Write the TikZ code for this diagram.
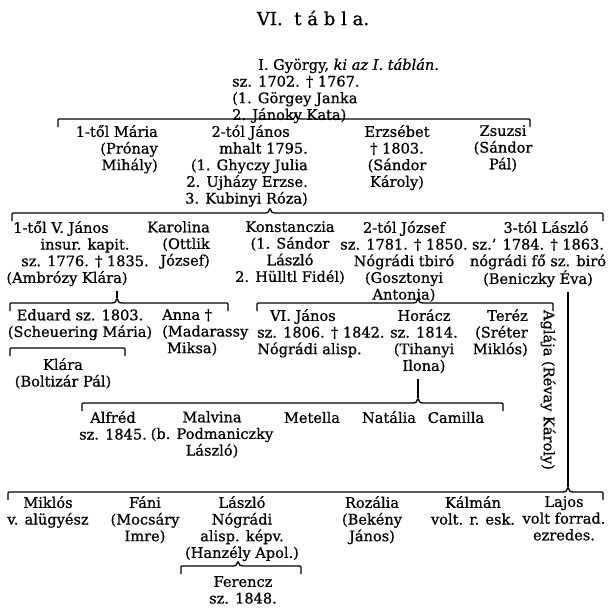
\documentclass[tikz,border=0pt]{standalone}
\usepackage{fontspec}
\setmainfont[FakeBold=0.8]{DejaVu Serif}
\usetikzlibrary{calc}

% bracket: left end, tip, right end (hooks turn down)
\newcommand{\kinbracket}[3]{%
  \draw[kin] ($(#1)+(0,8)$) -- (#1) -- ($(#2)+(-6,0)$)
    .. controls ($(#2)+(-2,0)$) .. ($(#2)+(0,-5)$)
    .. controls ($(#2)+(2,0)$) .. ($(#2)+(6,0)$) -- (#3) -- ($(#3)+(0,8)$);}
% bracket with no tip
\newcommand{\kinbar}[2]{%
  \draw[kin] ($(#1)+(0,8)$) -- (#1) -- (#2) -- ($(#2)+(0,8)$);}

\begin{document}
\begin{tikzpicture}[x=0.35mm, y=-0.35mm,
  font=\fontsize{14.5}{16.6}\selectfont,
  person/.style={inner sep=0pt, anchor=north, align=center, execute at begin node=\strut},
  kin/.style={line width=1.3pt, rounded corners=1pt}]
  \useasboundingbox (0,0) rectangle (613,609);

  % Title
  \node (title) at (313,18) [font=\fontsize{18}{20}\selectfont] {VI.\ \ t á b l a.};

  % I. generation
  \node[person, anchor=north west, align=left] (gyorgy) at (232,58)
    {\hspace*{9.1mm}I. György, \textit{ki az I. táblán.}\\sz. 1702. † 1767.\\(1. Görgey Janka\\2. Jánoky Kata)};

  % Children of György
  \node[person, anchor=north east, align=right] (maria) at (158,125) {1-től Mária\\(Prónay\\Mihály)};
  \node[person, anchor=north east, align=right] (janos2) at (308,125)
    {2-tól János\hspace*{6.3mm}\\mhalt 1795.\\(1. Ghyczy Julia\\2. Ujházy Erzse.\\3. Kubinyi Róza)};
  \node[person] (erzsebet) at (397,125) {Erzsébet\\† 1803.\\(Sándor\\Károly)};
  \node[person] (zsuzsi) at (503,125) {Zsuzsi\\(Sándor\\Pál)};

  % Children of János
  \node[person] (janos5) at (85,221)
    {1-től V. János\hspace*{16.8mm}\\insur. kapit.\\sz. 1776. † 1835.\\(Ambrózy Klára)\hspace*{12.6mm}};
  \node[person, anchor=north east, align=right] (karolina) at (210,221) {Karolina\\(Ottlik\hspace*{3.5mm}\\József)};
  \node[person] (konst) at (290,221) {Konstanczia\\(1. Sándor\\László\\2. Hülltl Fidél)};
  \node[person] (jozsef) at (404,221) {2-tól József\\sz. 1781. † 1850.\\Nógrádi tbiró\\(Gosztonyi\\Antonia)};
  \node[person] (laszlo3) at (538,221)
    {\hspace*{5.6mm}3-tól László\\sz.’ 1784. † 1863.\\nógrádi fő sz. biró\\(Beniczky Éva)};

  % Grandchildren
  \node[person] (eduard) at (80,309) {Eduard sz. 1803.\\(Scheuering Mária)};
  \node[person, anchor=north west, align=left] (anna) at (162,309) {Anna †\\(Madarassy\\\hspace*{1.7mm}Miksa)};
  \node[person, anchor=north west, align=left] (janos6) at (257,309)
    {\hspace*{4.5mm}VI. János\\sz. 1806. † 1842.\\Nógrádi alisp.};
  \node[person] (horacz) at (424,309) {Horácz\\sz. 1814.\\(Tihanyi\\Ilona)};
  \node[person, anchor=north east, align=right] (terez) at (528,309) {Teréz\\(Sréter\\Miklós)};
  \node[person] (klara) at (63,358) {Klára\\(Boltizár Pál)};
  \node[rotate=-90, inner sep=0pt] (aglaja) at (548,390) {Aglája (Révay Károly)};

  % Children of Horácz
  \node[person] (alfred) at (113,411) {Alfréd\\sz. 1845.};
  \node[person] (malvina) at (212,411) {Malvina\\(b. Podmaniczky\\László)};
  \node[person] (metella) at (312,411) {Metella};
  \node[person] (natalia) at (389,411) {Natália};
  \node[person] (camilla) at (456,411) {Camilla};

  % Children of László
  \node[person] (miklos) at (48,496) {Miklós\\v. alügyész};
  \node[person] (fani) at (145,496) {Fáni\\(Mocsáry\\Imre)};
  \node[person] (laszlo) at (242,496) {László\\Nógrádi\\alisp. képv.\\(Hanzély Apol.)};
  \node[person] (rozalia) at (372,496) {Rozália\\(Bekény\\János)};
  \node[person] (kalman) at (473,496) {Kálmán\\volt. r. esk.};
  \node[person] (lajos) at (564,496) {Lajos\\volt forrad.\\ezredes.};
  \node[person] (ferencz) at (243,576) {Ferencz\\sz. 1848.};

  % Bracket points
  \coordinate (b1l) at (58,119);  \coordinate (b1t) at (296,119); \coordinate (b1r) at (530,119);
  \coordinate (b2l) at (12,213);  \coordinate (b2t) at (270,213); \coordinate (b2r) at (603,213);
  \coordinate (b3l) at (10,303);  \coordinate (b3t) at (117,303); \coordinate (b3r) at (228,303);
  \coordinate (b4l) at (257,303); \coordinate (b4t) at (418,303); \coordinate (b4r) at (553,303);
  \coordinate (b5l) at (10,348);  \coordinate (b5r) at (125,348);
  \coordinate (b6l) at (82,403);  \coordinate (b6t) at (418,403); \coordinate (b6r) at (503,403);
  \coordinate (b7l) at (8,492);   \coordinate (b7t) at (568,492); \coordinate (b7r) at (603,492);
  \coordinate (b8l) at (181,566); \coordinate (b8t) at (238,566); \coordinate (b8r) at (301,566);

  % Brackets
  \kinbracket{b1l}{b1t}{b1r}
  \kinbracket{b2l}{b2t}{b2r}
  \kinbracket{b3l}{b3t}{b3r}
  \kinbracket{b4l}{b4t}{b4r}
  \kinbar{b5l}{b5r}
  \kinbracket{b6l}{b6t}{b6r}
  \kinbracket{b7l}{b7t}{b7r}
  \kinbracket{b8l}{b8t}{b8r}

  % Stems
  \coordinate (s3) at (janos5.south -| b3t);
  \coordinate (s6) at (horacz.south -| b6t);
  \coordinate (s7) at (laszlo3.south -| b7t);
  \draw[kin] ($(s3)+(0,3)$) -- ($(b3t)+(0,-5)$);
  \draw[kin] ($(s6)+(0,3)$) -- ($(b6t)+(0,-5)$);
  \draw[kin] ($(s7)+(0,3)$) -- ($(b7t)+(0,-5)$);
\end{tikzpicture}
\end{document}
